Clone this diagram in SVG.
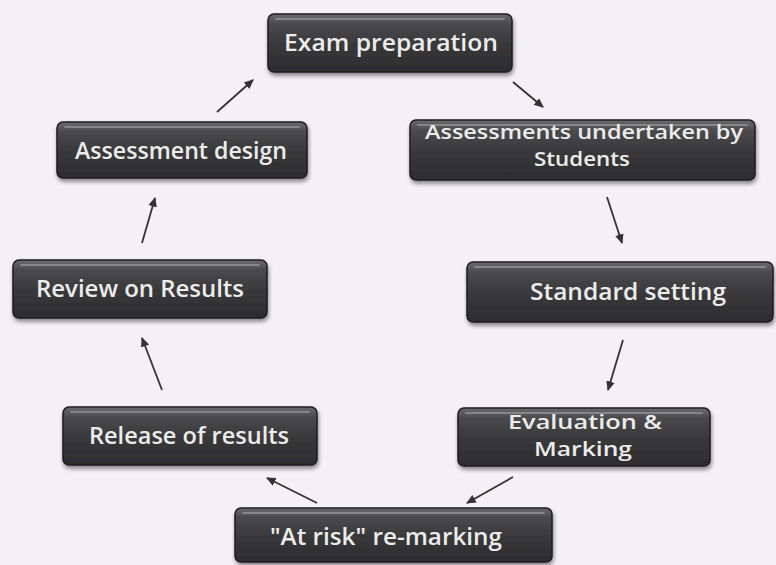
<svg xmlns="http://www.w3.org/2000/svg" width="776" height="565" viewBox="0 0 776 565">
<defs>
<linearGradient id="box" x1="0" y1="0" x2="0" y2="1">
<stop offset="0" stop-color="#6a6a6c"/>
<stop offset="0.18" stop-color="#4a4a4c"/>
<stop offset="0.5" stop-color="#3a3a3c"/>
<stop offset="1" stop-color="#2c2c2e"/>
</linearGradient>
<filter id="sh" x="-10%" y="-20%" width="120%" height="150%">
<feGaussianBlur in="SourceAlpha" stdDeviation="2"/>
<feOffset dx="1" dy="3"/>
<feComponentTransfer><feFuncA type="linear" slope="0.45"/></feComponentTransfer>
<feMerge><feMergeNode/><feMergeNode in="SourceGraphic"/></feMerge>
</filter>
<marker id="ah" viewBox="0 0 10 10" refX="8" refY="5" markerWidth="6" markerHeight="6" orient="auto" markerUnits="strokeWidth">
<path d="M0,1 L9,5 L0,9 z" fill="#333"/>
</marker>
</defs>
<style>
.bx{fill:url(#box);stroke:#1e1e20;stroke-width:1.5;filter:url(#sh)}
.hl{fill:none;stroke:#9a9a9c;stroke-width:2;stroke-linecap:round;opacity:0.7}
.t{font-family:"Open Sans","Liberation Sans",sans-serif;font-size:23px;font-weight:600;fill:#ececec;text-anchor:middle}
.t2{font-size:20px}
.c{fill:none;stroke:#333;stroke-width:1.8;marker-end:url(#ah)}
</style>
<rect width="776" height="565" fill="#f3f1f4"/>
<g id="connectors">
<line class="c" x1="217" y1="112" x2="253" y2="80"/>
<line class="c" x1="513" y1="82" x2="543" y2="107"/>
<line class="c" x1="607" y1="197" x2="622" y2="243"/>
<line class="c" x1="623" y1="340" x2="608" y2="390"/>
<line class="c" x1="513" y1="477" x2="467" y2="503"/>
<line class="c" x1="317" y1="503" x2="267" y2="478"/>
<line class="c" x1="162" y1="390" x2="142" y2="338"/>
<line class="c" x1="142" y1="243" x2="155" y2="198"/>
</g>
<g id="n-exam">
<rect class="bx" x="268" y="14" width="244" height="58" rx="6"/>
<line class="hl" x1="276" y1="19" x2="504" y2="19"/>
<text class="t" x="391" y="51" textLength="214" lengthAdjust="spacingAndGlyphs">Exam preparation</text>
</g>
<g id="n-assessments">
<rect class="bx" x="410" y="120" width="345" height="60" rx="6"/>
<line class="hl" x1="418" y1="125" x2="747" y2="125"/>
<text class="t t2" x="584" y="139" textLength="318" lengthAdjust="spacingAndGlyphs">Assessments undertaken by</text>
<text class="t t2" x="582" y="166" textLength="96" lengthAdjust="spacingAndGlyphs">Students</text>
</g>
<g id="n-standard">
<rect class="bx" x="467" y="262" width="306" height="60" rx="6"/>
<line class="hl" x1="475" y1="267" x2="765" y2="267"/>
<text class="t" x="628" y="300" textLength="196" lengthAdjust="spacingAndGlyphs">Standard setting</text>
</g>
<g id="n-evaluation">
<rect class="bx" x="458" y="408" width="252" height="58" rx="6"/>
<line class="hl" x1="466" y1="413" x2="702" y2="413"/>
<text class="t t2" x="585" y="429" textLength="154" lengthAdjust="spacingAndGlyphs">Evaluation &amp;</text>
<text class="t t2" x="583" y="456" textLength="98" lengthAdjust="spacingAndGlyphs">Marking</text>
</g>
<g id="n-atrisk">
<rect class="bx" x="235" y="508" width="317" height="54" rx="6"/>
<line class="hl" x1="243" y1="513" x2="544" y2="513"/>
<text class="t" x="386" y="545" textLength="232" lengthAdjust="spacingAndGlyphs">"At risk" re-marking</text>
</g>
<g id="n-release">
<rect class="bx" x="63" y="407" width="254" height="58" rx="6"/>
<line class="hl" x1="71" y1="412" x2="309" y2="412"/>
<text class="t" x="189" y="444" textLength="200" lengthAdjust="spacingAndGlyphs">Release of results</text>
</g>
<g id="n-review">
<rect class="bx" x="13" y="260" width="254" height="58" rx="6"/>
<line class="hl" x1="21" y1="265" x2="259" y2="265"/>
<text class="t" x="140" y="297" textLength="208" lengthAdjust="spacingAndGlyphs">Review on Results</text>
</g>
<g id="n-design">
<rect class="bx" x="57" y="122" width="250" height="56" rx="6"/>
<line class="hl" x1="65" y1="127" x2="299" y2="127"/>
<text class="t" x="181" y="159" textLength="212" lengthAdjust="spacingAndGlyphs">Assessment design</text>
</g>
</svg>
